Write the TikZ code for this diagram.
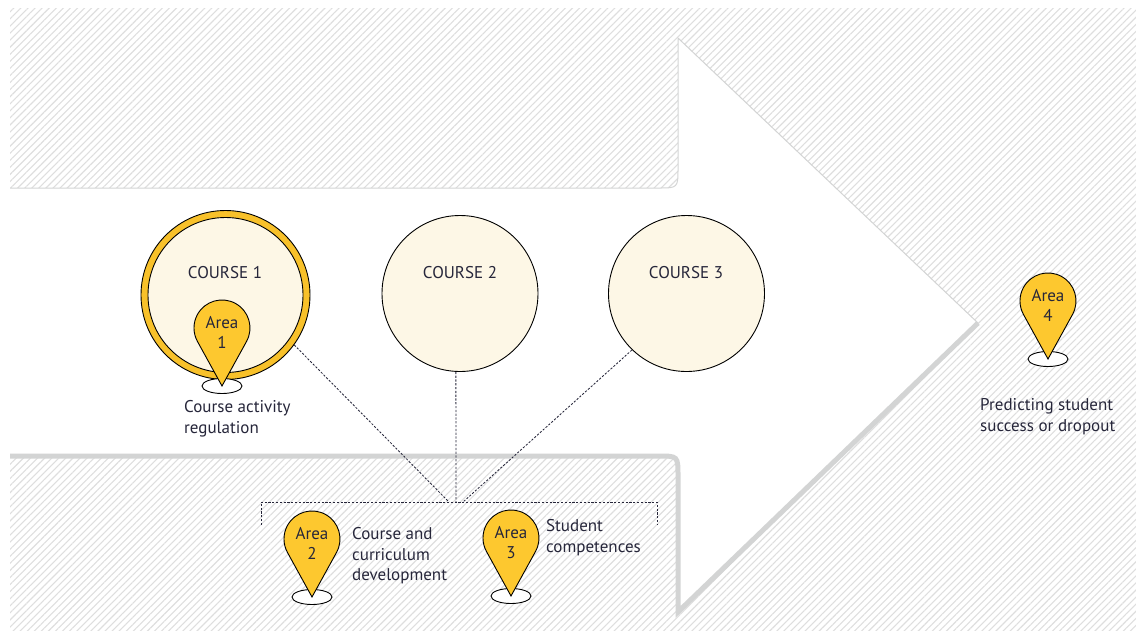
\documentclass[tikz,border=0pt]{standalone}
\usepackage{fontspec}
\setmainfont{PT Sans}
\usetikzlibrary{patterns.meta}
\definecolor{pinyellow}{HTML}{FDC82F}
\definecolor{ringyellow}{HTML}{F8C12A}
\definecolor{cream}{HTML}{FDF7E6}
\definecolor{ink}{HTML}{26263A}
\definecolor{edge}{HTML}{D3D4D4}
\definecolor{hatch}{HTML}{DEDEDE}

\begin{document}
\begin{tikzpicture}[x=1pt,y=-1pt,
  course/.style={circle,draw,line width=0.9pt,fill=cream,minimum size=156pt,inner sep=0pt},
  coursetext/.style={text=ink,font=\fontsize{17}{20}\selectfont},
  label/.style={anchor=north west,align=left,inner sep=0pt,text=ink,font=\fontsize{17}{20.5}\selectfont},
  pintext/.style={align=center,inner sep=0pt,text=ink,font=\fontsize{17}{20}\selectfont},
  link/.style={draw=ink,line width=0.85pt,dash pattern=on 2.2pt off 1.6pt},
  pin/.pic={
    \draw[fill=white,line width=0.9pt] (0,58) ellipse[x radius=20,y radius=7.5];
    \draw[fill=pinyellow,line width=0.9pt] (0,58) -- (24.5,13.5) arc[start angle=28.9,end angle=-208.9,radius=28] -- cycle;
    \node[pintext] (-txt) at (0,4.5) {Area\\#1};
  }]
\useasboundingbox (0,0) rectangle (1136,630);
\fill[pattern={Lines[angle=45,distance=5pt,line width=1.1pt]},pattern color=hatch] (10,8) rectangle (1136,630);
\fill[white] (10,188) -- (658,188) .. controls (678,188) .. (678,168) -- (678,38) -- (978,323) -- (678,612) -- (678,476) .. controls (678,456) .. (658,456) -- (10,456) -- cycle;
\draw[edge,line width=1pt] (10,188) -- (658,188) .. controls (678,188) .. (678,168) -- (678,38) -- (978,323);
\draw[edge,line width=5pt] (978,323) -- (678,612) -- (678,476) .. controls (678,456) .. (658,456) -- (10,456);

\node[course,minimum size=169pt,fill=ringyellow] (c1) at (225.5,295) {};
\node[course,minimum size=155pt] (c1in) at (c1) {};
\node[course] (c2) at (460,293.5) {};
\node[course] (c3) at (686.5,293.5) {};
\node[coursetext] (t1) at (225,273) {COURSE 1};
\node[coursetext] (t2) at (460,273) {COURSE 2};
\node[coursetext] (t3) at (686,273) {COURSE 3};

\coordinate (bl) at (261,502);
\coordinate (br) at (657,502);
\coordinate (j1) at (449,502);
\coordinate (j2) at (456,502);
\coordinate (j3) at (463,502);
\draw[link] (bl) ++(0,23) -- (bl) -- (br) -- ++(0,23);
\draw[link] (c1.-36) -- (j1);
\draw[link] (c2.-93) -- (j2);
\draw[link] (c3.-134) -- (j3);

\pic (a1) at (222,328) {pin=1};
\pic (a2) at (312,539) {pin=2};
\pic (a3) at (511,538) {pin=3};
\pic (a4) at (1048,301) {pin=4};

\node[label] (l1) at (184,400.5) {Course activity\\regulation};
\node[label] (l2) at (352,527.5) {Course and\\curriculum\\development};
\node[label] (l3) at (546,519.5) {Student\\competences};
\node[label] (l4) at (980,398.5) {Predicting student\\success or dropout};
\end{tikzpicture}
\end{document}
